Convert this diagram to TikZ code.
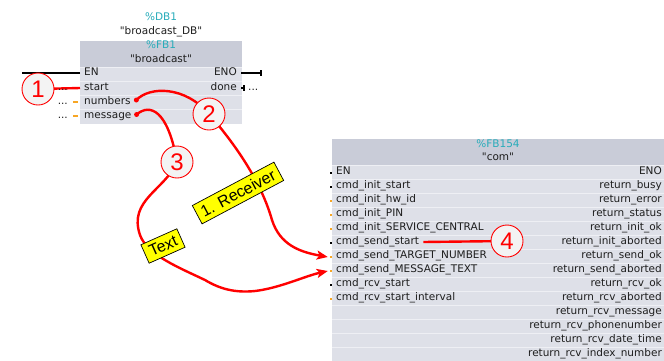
\documentclass[tikz,border=0pt]{standalone}
\usepackage{fontspec}
\setmainfont{DejaVu Sans}[Ligatures=TeXOff]
\newfontfamily\calloutfont{Liberation Sans}
\usetikzlibrary{arrows.meta}
\definecolor{hdrgray}{RGB}{201,204,216}
\definecolor{bodygray}{RGB}{222,224,232}
\definecolor{sepline}{RGB}{238,239,244}
\definecolor{idteal}{RGB}{40,172,186}
\definecolor{pinorange}{RGB}{247,166,36}
\definecolor{markred}{RGB}{255,0,0}
\definecolor{calloutfill}{RGB}{243,243,243}
\definecolor{tagyellow}{RGB}{255,255,0}
\definecolor{textgray}{RGB}{30,30,30}
\pgfdeclarelayer{blocks}
\pgfdeclarelayer{wires}
\pgfsetlayers{blocks,wires,main}
\tikzset{
  port/.style={inner sep=0pt, text height=7.6pt, text depth=2.2pt, text=textgray,
    font=\fontsize{10.5}{12}\selectfont},
  sep/.style={draw=sepline, line width=0.8pt},
  pinline/.style={draw=black, line width=1.6pt},
  orangestub/.style={draw=pinorange, line width=1.6pt},
  pinmark/.style={rectangle, inner sep=0pt, minimum width=2pt, minimum height=2.4pt},
  callout/.style={circle, draw=markred, line width=0.9pt, fill=calloutfill, text=markred,
    minimum size=32pt, inner sep=0pt, font=\calloutfont\fontsize{24}{24}\selectfont},
  tag/.style={fill=tagyellow, draw=black, line width=0.7pt, inner xsep=5pt, inner ysep=4.5pt,
    font=\calloutfont\fontsize{16}{16}\selectfont},
  wire/.style={draw=markred, line width=2.4pt},
  wirearrow/.style={wire, -{Stealth[length=11pt,width=9pt,inset=2.5pt]}},
  wiredot/.style={circle, fill=markred, inner sep=0pt, minimum size=5pt},
}
\begin{document}
\begin{tikzpicture}[x=1pt,y=-1pt]
\useasboundingbox (0,0) rectangle (664,360);

% ---------- block backgrounds ----------
\begin{pgfonlayer}{blocks}
  % "broadcast" call
  \fill[hdrgray] (80,41) rectangle (242,67);
  \fill[bodygray] (80,67) rectangle (242,124);
  \foreach \y in {67,81,95,109} \draw[sep] (80,\y) -- (242,\y);
  % "com" call
  \fill[hdrgray] (332,139) rectangle (664,165);
  \fill[bodygray] (332,165) rectangle (664,362);
  \foreach \k in {0,...,13} \draw[sep] (332,{165+14*\k}) -- (664,{165+14*\k});
\end{pgfonlayer}

% ---------- "broadcast" call ----------
\node[port, text=idteal] (db1id) at (161,18) {\%DB1};
\node[port] (db1name) at (161,32) {"broadcast\_DB"};
\node[port, text=idteal] (fb1id) at (161,46) {\%FB1};
\node[port] (fb1name) at (161,60) {"broadcast"};

\node[port, anchor=west] (en1) at (84,73) {EN};
\node[port, anchor=west] (start) at (84,88) {start};
\node[port, anchor=west] (numbers) at (84,102) {numbers};
\node[port, anchor=west] (message) at (84,116) {message};
\node[port, anchor=east] (eno1) at (237,73) {ENO};
\node[port, anchor=east] (done) at (237,88) {done};

% pin stubs
\draw[pinline] ([xshift=-4pt]en1.west) -- (22,73);
\draw[pinline] ([xshift=4pt]eno1.east) -- (261,73);
\draw[black, line width=1.2pt] (261,70) -- (261,76);
\draw[pinline] ([xshift=4pt]done.east) -- (245,88);
\draw[black, line width=1.2pt] (244,85) -- (244,91);
\node[port, anchor=west] (donedots) at (248,88) {...};
\node[port, anchor=east] (startdots) at (68,88) {...};
\node[port, anchor=east] (numdots) at (68,102) {...};
\node[port, anchor=east] (msgdots) at (68,116) {...};
\draw[orangestub] (73,102) -- (78,102);
\draw[orangestub] (73,116) -- (78,116);

% ---------- "com" call ----------
\node[port, text=idteal] (fb154id) at (498,145) {\%FB154};
\node[port] (fb154name) at (498,158) {"com"};

\foreach \i/\name/\col in {0/EN/black, 1/cmd\_init\_start/black, 2/cmd\_init\_hw\_id/pinorange,
    3/cmd\_init\_PIN/pinorange, 4/cmd\_init\_SERVICE\_CENTRAL/pinorange, 5/cmd\_send\_start/black,
    6/cmd\_send\_TARGET\_NUMBER/pinorange, 7/cmd\_send\_MESSAGE\_TEXT/pinorange,
    8/cmd\_rcv\_start/black, 9/cmd\_rcv\_start\_interval/pinorange} {
  \node[port, anchor=west] (l\i) at (336,{172+14*\i}) {\name};
  \node[pinmark, fill=\col] (m\i) at (331,{173+14*\i}) {};
}
\foreach \i/\name in {0/ENO, 1/return\_busy, 2/return\_error, 3/return\_status,
    4/return\_init\_ok, 5/return\_init\_aborted, 6/return\_send\_ok, 7/return\_send\_aborted,
    8/return\_rcv\_ok, 9/return\_rcv\_aborted, 10/return\_rcv\_message,
    11/return\_rcv\_phonenumber, 12/return\_rcv\_date\_time, 13/return\_rcv\_index\_number} {
  \node[port, anchor=east] (r\i) at (662,{172+14*\i}) {\name};
}

% ---------- callouts and tags ----------
\node[wiredot] (dnum) at ([xshift=5.5pt,yshift=2pt]numbers.east) {};
\node[wiredot] (dmsg) at ([xshift=5pt,yshift=1.5pt]message.east) {};
\node[callout] (c1) at (38,89) {1};
\node[callout] (c2) at (209,114) {2};
\node[callout] (c3) at (177,162) {3};
\node[callout] (c4) at (507,241) {4};
\node[tag, rotate=28] (receiver) at (238,193) {1. Receiver};
\node[tag, rotate=24] (textlbl) at (163,246) {Text};

% ---------- red wiring ----------
\begin{pgfonlayer}{wires}
  \draw[wire] (c1.center) -- ([xshift=-4pt]start.west);
  \draw[wirearrow] (dnum.center) .. controls (150,86) and (185,86) .. (c2.center)
    .. controls (240,150) and (262,185) .. (272,220)
    .. controls (280,245) and (300,252) .. ([xshift=-2pt]m6.west);
  \draw[wirearrow] (dmsg.center) .. controls (150,103) and (168,110) .. (c3.center)
    .. controls (165,190) and (128,200) .. (140,235)
    .. controls (147,255) and (180,268) .. (205,280)
    .. controls (220,289) and (235,293) .. (255,291)
    .. controls (280,288) and (305,276) .. ([xshift=-2pt]m7.west);
  \draw[wire] ([xshift=4pt]l5.east) -- (c4.center);
\end{pgfonlayer}
\end{tikzpicture}
\end{document}
